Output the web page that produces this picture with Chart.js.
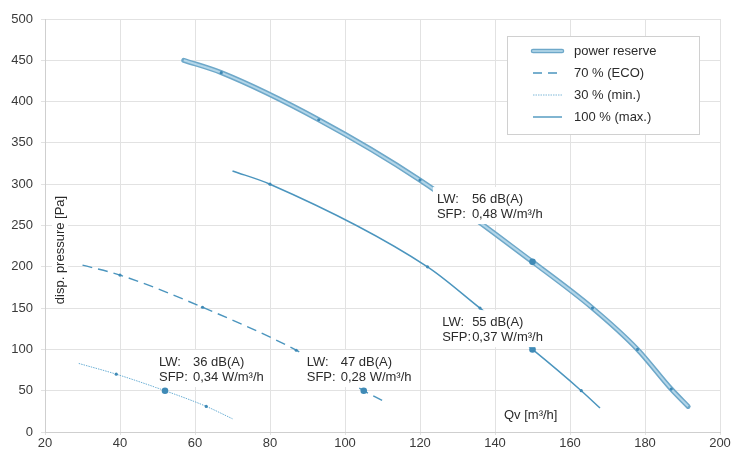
<!DOCTYPE html>
<html>
<head>
<meta charset="utf-8">
<script src="https://cdn.jsdelivr.net/npm/chart.js@4.4.1/dist/chart.umd.min.js"></script>
<style>
  body { margin: 0; background: #fff; }
</style>
</head>
<body>
<canvas id="chartCanvas" width="746" height="451"></canvas>
<script>
// air volume [m3/h] / disp. pressure [Pa]
const qvPower = [57, 67, 93, 120, 150, 166, 178, 187, 191.5];
const dpPower = [450, 435, 378, 305, 206, 150, 100, 52, 31];
const qvMax = [70, 80, 122, 136, 150, 163, 168];
const dpMax = [316, 300, 200, 150, 100, 50, 29];
const qvEco = [30, 40, 62, 87, 105, 110];
const dpEco = [202, 190, 151, 99, 50, 38];
const qvMin = [29, 39, 52, 63, 70];
const dpMin = [83, 70, 50, 31, 16];

const xTicks = [20, 40, 60, 80, 100, 120, 140, 160, 180, 200];
const yTicks = [0, 50, 100, 150, 200, 250, 300, 350, 400, 450, 500];

const seriesNames = ['power reserve', '70 % (ECO)', '30 % (min.)', '100 % (max.)'];

// operating point labels
const labelQv = [50.4, 89.8, 124.5, 125.9];
const labelDp = [84.7, 84.7, 282, 133];
const labelLW = ['36 dB(A)', '47 dB(A)', '56 dB(A)', '55 dB(A)'];
const labelSFP = ['0,34 W/m³/h', '0,28 W/m³/h', '0,48 W/m³/h', '0,37 W/m³/h'];

const FONT = '"Liberation Sans", Arial, Helvetica, sans-serif';
const lineBlue = '#4b95be';
const dotBlue = '#3f8ab6';

function pts(xs, ys) {
  return xs.map((x, i) => ({ x, y: ys[i] }));
}

// small marker for every inner point, big dot at the operating point
function radii(xs, big) {
  return xs.map((x, i) => (i === 0 || i === xs.length - 1) ? 0 : (x === big ? 3.3 : 1.6));
}

const overlays = {
  id: 'overlays',
  afterDatasetsDraw(chart) {
    const ctx = chart.ctx;
    const xs = chart.scales.x, ys = chart.scales.y;
    const cols = [34, 34, 35, 30];
    ctx.save();
    ctx.font = '13px ' + FONT;
    ctx.textBaseline = 'middle';
    labelQv.forEach((q, i) => {
      const px = xs.getPixelForValue(q);
      const py = ys.getPixelForValue(labelDp[i]);
      const w = cols[i] + Math.max(ctx.measureText(labelLW[i]).width, ctx.measureText(labelSFP[i]).width);
      ctx.fillStyle = '#fff';
      ctx.fillRect(px - 4, py - 12, w + 8, 15 + 22);
      ctx.fillStyle = '#2b2b2b';
      ctx.textAlign = 'left';
      ctx.fillText('LW:', px, py);
      ctx.fillText('SFP:', px, py + 15);
      ctx.fillText(labelLW[i], px + cols[i], py);
      ctx.fillText(labelSFP[i], px + cols[i], py + 15);
    });

    // axis titles inside the plot
    ctx.save();
    ctx.translate(60, 250);
    ctx.rotate(-Math.PI / 2);
    const t = 'disp. pressure [Pa]';
    const tw = ctx.measureText(t).width;
    ctx.fillStyle = '#fff';
    ctx.fillRect(-tw / 2 - 3, -8, tw + 6, 16);
    ctx.fillStyle = '#2b2b2b';
    ctx.textAlign = 'center';
    ctx.fillText(t, 0, 0);
    ctx.restore();

    ctx.textAlign = 'left';
    ctx.fillStyle = '#2b2b2b';
    ctx.fillText('Qv [m³/h]', 504, 415);

    // legend
    const lx = 507, ly = 36, lw = 192, lh = 98;
    ctx.fillStyle = '#fff';
    ctx.fillRect(lx, ly, lw, lh);
    ctx.strokeStyle = '#d0d0d0';
    ctx.lineWidth = 1;
    ctx.strokeRect(lx + 0.5, ly + 0.5, lw, lh);
    seriesNames.forEach((name, i) => {
      const y = ly + 15 + i * 22;
      const x0 = lx + 26, x1 = lx + 55;
      ctx.lineCap = 'butt';
      if (i === 0) {
        ctx.lineCap = 'round';
        ctx.strokeStyle = '#6ea8c9';
        ctx.lineWidth = 4.5;
        ctx.setLineDash([]);
        ctx.beginPath(); ctx.moveTo(x0, y); ctx.lineTo(x1, y); ctx.stroke();
        ctx.strokeStyle = '#a9d0e4';
        ctx.lineWidth = 2;
        ctx.beginPath(); ctx.moveTo(x0, y); ctx.lineTo(x1, y); ctx.stroke();
      } else {
        ctx.strokeStyle = i === 2 ? '#7fb8d8' : lineBlue;
        ctx.lineWidth = i === 2 ? 1 : 1.4;
        ctx.setLineDash(i === 1 ? [9, 6] : i === 2 ? [1.5, 1] : []);
        ctx.beginPath(); ctx.moveTo(x0, y); ctx.lineTo(x1, y); ctx.stroke();
      }
      ctx.setLineDash([]);
      ctx.fillStyle = '#2b2b2b';
      ctx.fillText(name, lx + 67, y);
    });
    ctx.restore();
  }
};

const curve = { showLine: true, cubicInterpolationMode: 'monotone', pointBackgroundColor: dotBlue, pointBorderWidth: 0 };

new Chart(document.getElementById('chartCanvas').getContext('2d'), {
  type: 'scatter',
  data: {
    datasets: [
      Object.assign({}, curve, {
        label: seriesNames[0] + ' outer',
        data: pts(qvPower, dpPower),
        borderColor: '#6ea8c9',
        borderWidth: 5,
        borderCapStyle: 'round',
        pointRadius: 0,
        order: 4
      }),
      Object.assign({}, curve, {
        label: seriesNames[0],
        data: pts(qvPower, dpPower),
        borderColor: '#b3d6e9',
        borderWidth: 2,
        pointRadius: radii(qvPower, 150),
        order: 3
      }),
      Object.assign({}, curve, {
        label: seriesNames[1],
        data: pts(qvEco, dpEco),
        borderColor: lineBlue,
        borderWidth: 1.4,
        borderDash: [10, 6],
        pointRadius: radii(qvEco, 105),
        order: 2
      }),
      Object.assign({}, curve, {
        label: seriesNames[2],
        data: pts(qvMin, dpMin),
        borderColor: '#6aaed4',
        borderWidth: 1,
        borderDash: [1.5, 1],
        pointRadius: radii(qvMin, 52),
        order: 1
      }),
      Object.assign({}, curve, {
        label: seriesNames[3],
        data: pts(qvMax, dpMax),
        borderColor: lineBlue,
        borderWidth: 1.5,
        pointRadius: radii(qvMax, 150),
        order: 0
      })
    ]
  },
  options: {
    responsive: false,
    animation: false,
    layout: { padding: { top: 19, right: 26, left: 0, bottom: 0 } },
    plugins: {
      legend: { display: false },
      tooltip: { enabled: false }
    },
    scales: {
      x: {
        type: 'linear',
        min: 20,
        max: 200,
        afterBuildTicks: s => { s.ticks = xTicks.map(v => ({ value: v })); },
        afterFit: s => { s.height = 19; },
        grid: { color: '#e2e2e2', tickLength: 3 },
        border: { color: '#cfcfcf' },
        ticks: { color: '#3a3a3a', padding: 1, font: { family: FONT, size: 13 }, maxRotation: 0 }
      },
      y: {
        min: 0,
        max: 500,
        afterBuildTicks: s => { s.ticks = yTicks.map(v => ({ value: v })); },
        afterFit: s => { s.width = 45; },
        grid: { color: '#e2e2e2', tickLength: 4 },
        border: { color: '#cfcfcf' },
        ticks: { color: '#3a3a3a', padding: 8, font: { family: FONT, size: 13 } }
      }
    }
  },
  plugins: [overlays]
});
</script>
</body>
</html>
